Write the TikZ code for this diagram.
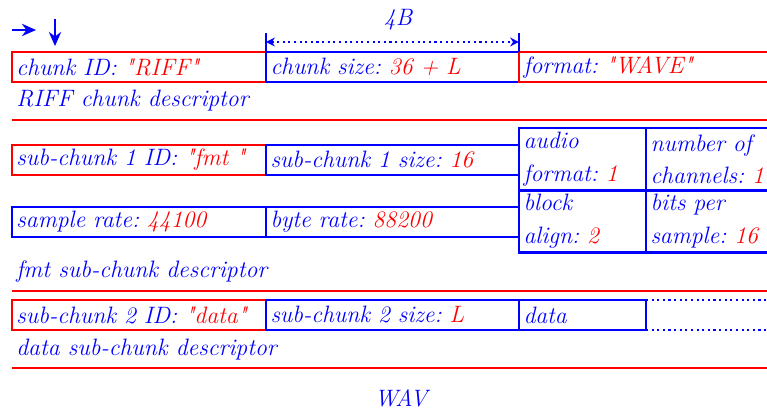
\documentclass[tikz,border=0pt]{standalone}
\usetikzlibrary{arrows.meta}
\definecolor{wavblue}{RGB}{0,0,255}
\definecolor{wavred}{RGB}{255,0,0}
\newcommand{\val}[1]{\textcolor{wavred}{#1}}
\newcommand{\qt}[1]{\textquotedbl#1\textquotedbl}
\frenchspacing
\tikzset{
  wavtext/.style={text=wavblue, font=\fontsize{13.5}{17}\selectfont\itshape},
  field/.style={wavtext, draw, line width=1.2pt, outer sep=0pt, inner xsep=0.09cm,
    inner ysep=0pt, text width=#1, align=left, minimum height=0.6cm, anchor=north west},
  idfield/.style={field=#1, draw=wavred},
  sizefield/.style={field=#1, draw=wavblue},
  tallfield/.style={sizefield=#1, minimum height=1.25cm, font=\fontsize{13.5}{18.5}\selectfont\itshape},
  desc/.style={wavtext, anchor=west, inner sep=0pt},
  sepline/.style={draw=wavred, line width=1.2pt},
  pointer/.style={draw=wavblue, line width=1.4pt, -{Stealth[length=8pt,width=7pt]}}
}
\begin{document}
\begin{tikzpicture}[x=0.02cm, y=-0.02cm]
\clip (0,0) rectangle (767,411);

% reading direction
\coordinate (rstart) at (12,30);
\coordinate (rend) at (36,30);
\coordinate (dstart) at (55,19);
\coordinate (dend) at (55,46);
\draw[pointer] (rstart) -- (rend);
\draw[pointer] (dstart) -- (dend);

% RIFF chunk descriptor
\node[idfield=4.9cm] (ckid) at (12,52) {chunk ID: \val{\qt{RIFF}}};
\node[sizefield=4.88cm] (cksize) at (266,52) {chunk size: \val{36 + L}};
\node[idfield=5.8cm] (ckformat) at (519,52) {format: \val{\qt{WAVE}}};
\node[desc] (riffdesc) at (16,101) {RIFF chunk descriptor};
\draw[sepline] (12,120) -- (780,120);

% size of one field
\draw[draw=wavblue, line width=1.2pt] (cksize.north west) -- ++(0,-19) coordinate (barl);
\draw[draw=wavblue, line width=1.2pt] (cksize.north east) -- ++(0,-19) coordinate (barr);
\draw[draw=wavblue, line width=1.2pt, dotted, {Stealth[length=5pt,width=5pt]}-{Stealth[length=5pt,width=5pt]}]
  ([yshift=0.2cm]cksize.north west) -- ([yshift=0.2cm]cksize.north east);
\node[wavtext] (fieldsize) at (398,20) {4B};

% fmt sub-chunk descriptor
\node[idfield=4.9cm] (fmtid) at (12,145) {sub-chunk 1 ID: \val{\qt{fmt~}}};
\node[sizefield=4.88cm] (fmtsize) at (266,145) {sub-chunk 1 size: \val{16}};
\node[tallfield=2.36cm] (audiofmt) at (519,128) {audio\\format: \val{1}};
\node[tallfield=3.4cm] (nchan) at (646,128) {number of\\channels: \val{1}};
\node[tallfield=2.36cm] (blockalign) at (519,190) {block\\align: \val{2}};
\node[tallfield=3.4cm] (bitsps) at (646,190) {bits per\\sample: \val{16}};
\node[sizefield=4.9cm] (srate) at (12,207) {sample rate: \val{44100}};
\node[sizefield=4.88cm] (brate) at (266,207) {byte rate: \val{88200}};
\node[desc] (fmtdesc) at (16,272) {fmt sub-chunk descriptor};
\draw[sepline] (12,291) -- (780,291);

% data sub-chunk descriptor
\node[idfield=4.9cm] (dataid) at (12,300) {sub-chunk 2 ID: \val{\qt{data}}};
\node[sizefield=4.88cm] (datasize) at (266,300) {sub-chunk 2 size: \val{L}};
\node[sizefield=2.36cm] (databody) at (519,300) {data};
\draw[draw=wavblue, line width=1.2pt, dotted] (databody.north east) -- ++(130,0);
\draw[draw=wavblue, line width=1.2pt, dotted] (databody.south east) -- ++(130,0);
\node[desc] (datadesc) at (16,350) {data sub-chunk descriptor};
\draw[sepline] (12,368) -- (780,368);

\node[wavtext] (title) at (401,398) {WAV};
\end{tikzpicture}
\end{document}
